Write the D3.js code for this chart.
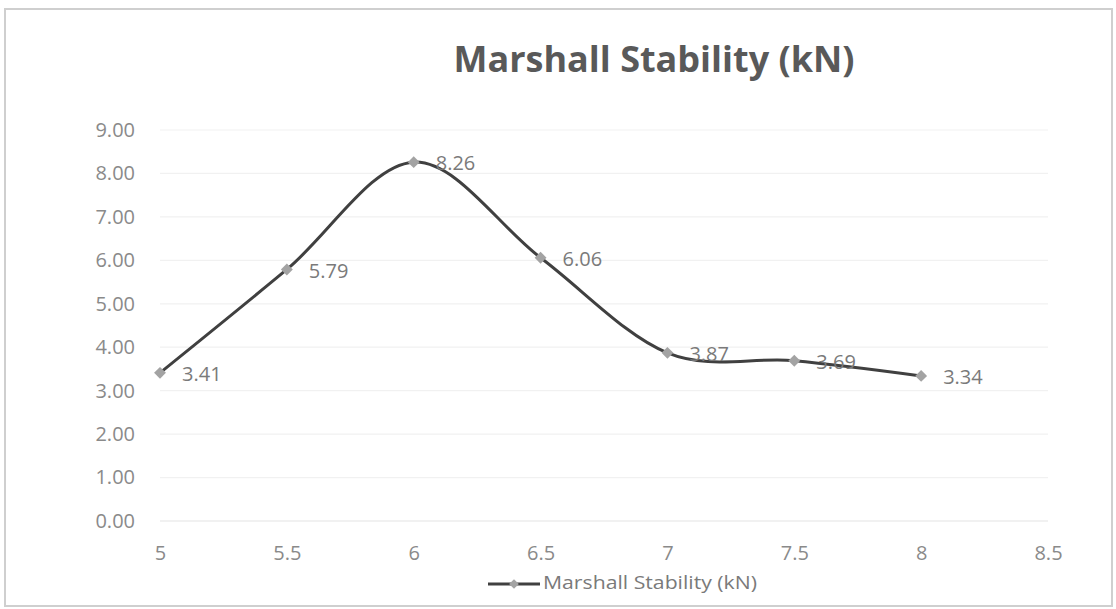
<!DOCTYPE html>
<html>
<head>
<meta charset="utf-8">
<script src="https://cdn.jsdelivr.net/npm/d3@7"></script>
<style>
  html, body { margin: 0; padding: 0; background: #fff; }
  svg text { font-family: "Open Sans", "Liberation Sans", sans-serif; }
</style>
</head>
<body>
<div id="chart"></div>
<script>
// Marshall Stability chart (Excel-style smoothed line)

const binderContent = [5, 5.5, 6, 6.5, 7, 7.5, 8];
const stability = [3.41, 5.79, 8.26, 6.06, 3.87, 3.69, 3.34];
const xTicks = [5, 5.5, 6, 6.5, 7, 7.5, 8, 8.5];
const yTicks = [0, 1, 2, 3, 4, 5, 6, 7, 8, 9];
const seriesName = "Marshall Stability (kN)";

const width = 1116;
const height = 609;
const plot = { left: 160, right: 1048, top: 130, bottom: 521 };

const points = binderContent.map((x, i) => ({ x, y: stability[i] }));

const svg = d3
  .select("#chart")
  .append("svg")
  .attr("width", width)
  .attr("height", height);

// chart frame
svg
  .append("rect")
  .attr("x", 5)
  .attr("y", 9)
  .attr("width", 1107)
  .attr("height", 597)
  .attr("fill", "#fff")
  .attr("stroke", "#cfcfcf")
  .attr("stroke-width", 2);

const x = d3.scaleLinear().domain([5, 8.5]).range([plot.left, plot.right]);
const y = d3.scaleLinear().domain([0, 9]).range([plot.bottom, plot.top]);

// gridlines
svg
  .append("g")
  .selectAll("line")
  .data(yTicks)
  .join("line")
  .attr("x1", plot.left)
  .attr("x2", plot.right)
  .attr("y1", (d) => y(d))
  .attr("y2", (d) => y(d))
  .attr("stroke", (d) => (d === 0 ? "#e4e4e4" : "#f1f1f1"))
  .attr("stroke-width", 1.2);

// y axis labels
const yAxis = svg
  .append("g")
  .attr("transform", `translate(${plot.left - 25},0)`)
  .call(d3.axisLeft(y).tickValues(yTicks).tickFormat(d3.format(".2f")).tickSize(0).tickPadding(0));
yAxis.select(".domain").remove();
yAxis
  .selectAll("text")
  .attr("fill", "#8a8a8a")
  .style("font-size", "20px");

// x axis labels
const xAxis = svg
  .append("g")
  .attr("transform", `translate(0,${plot.bottom + 25})`)
  .call(d3.axisBottom(x).tickValues(xTicks).tickFormat((d) => `${d}`).tickSize(0).tickPadding(0));
xAxis.select(".domain").remove();
xAxis
  .selectAll("text")
  .attr("fill", "#8a8a8a")
  .style("font-size", "20px");

// smoothed line
const line = d3
  .line()
  .x((d) => x(d.x))
  .y((d) => y(d.y))
  .curve(d3.curveCardinal.tension(0));

svg
  .append("path")
  .datum(points)
  .attr("d", line)
  .attr("fill", "none")
  .attr("stroke", "#404040")
  .attr("stroke-width", 3);

const diamond = d3.symbol().type(d3.symbolDiamond2).size(90);

svg
  .append("g")
  .selectAll("path")
  .data(points)
  .join("path")
  .attr("transform", (d) => `translate(${x(d.x)},${y(d.y)})`)
  .attr("d", diamond)
  .attr("fill", "#a3a3a3");

// data labels
svg
  .append("g")
  .selectAll("text")
  .data(points)
  .join("text")
  .attr("x", (d) => x(d.x) + 22)
  .attr("y", (d) => y(d.y) + 3)
  .attr("dominant-baseline", "middle")
  .attr("fill", "#7a7a7a")
  .style("font-size", "20px")
  .text((d) => d.y.toFixed(2));

// title
svg
  .append("text")
  .attr("x", 654)
  .attr("y", 72)
  .attr("text-anchor", "middle")
  .attr("fill", "#595959")
  .style("font-size", "36px")
  .style("font-weight", "bold")
  .text(seriesName);

// legend
const legend = svg.append("g").attr("transform", "translate(488,584)");
legend
  .append("line")
  .attr("x1", 0)
  .attr("x2", 52)
  .attr("stroke", "#404040")
  .attr("stroke-width", 3);
legend
  .append("path")
  .attr("transform", "translate(26,0)")
  .attr("d", d3.symbol().type(d3.symbolDiamond2).size(60))
  .attr("fill", "#a3a3a3");
legend
  .append("text")
  .attr("x", 55)
  .attr("y", 0)
  .attr("dominant-baseline", "middle")
  .attr("fill", "#7a7a7a")
  .style("font-size", "18px")
  .attr("textLength", 214)
  .attr("lengthAdjust", "spacingAndGlyphs")
  .text(seriesName);
</script>
</body>
</html>
